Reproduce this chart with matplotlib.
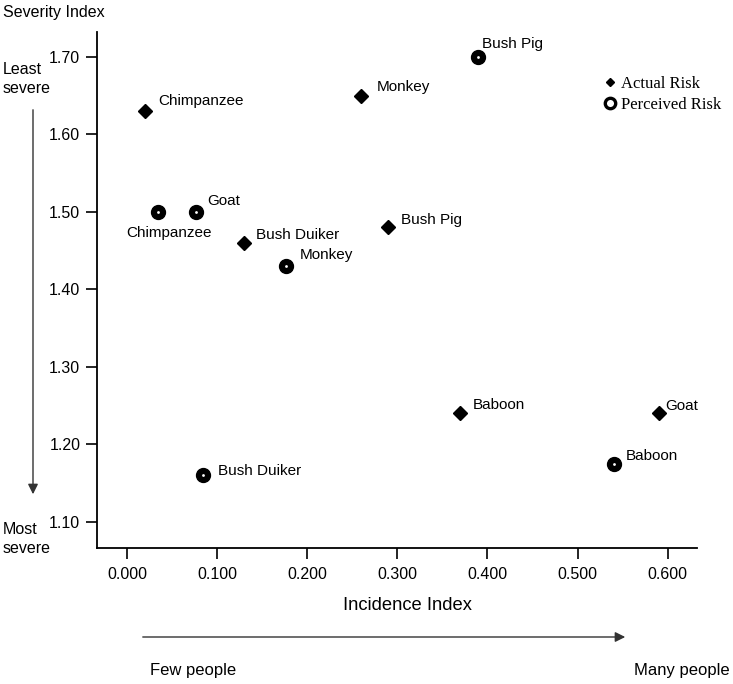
import matplotlib
matplotlib.use("Agg")
import matplotlib.pyplot as plt
from matplotlib.lines import Line2D
from matplotlib.patches import FancyArrowPatch

plt.rcParams['font.family'] = ['Liberation Sans', 'DejaVu Sans']

# Data
actual_names = ["Chimpanzee", "Monkey", "Bush Pig", "Bush Duiker", "Baboon", "Goat"]
actual_incidence = [0.020, 0.260, 0.290, 0.130, 0.370, 0.590]
actual_severity = [1.63, 1.65, 1.48, 1.46, 1.24, 1.24]

perceived_names = ["Bush Pig", "Chimpanzee", "Goat", "Monkey", "Baboon", "Bush Duiker"]
perceived_incidence = [0.390, 0.034, 0.077, 0.176, 0.540, 0.084]
perceived_severity = [1.70, 1.50, 1.50, 1.43, 1.175, 1.16]

x_ticks = [0.0, 0.1, 0.2, 0.3, 0.4, 0.5, 0.6]
x_ticklabels = ["0.000", "0.100", "0.200", "0.300", "0.400", "0.500", "0.600"]
y_ticks = [1.10, 1.20, 1.30, 1.40, 1.50, 1.60, 1.70]
y_ticklabels = ["1.10", "1.20", "1.30", "1.40", "1.50", "1.60", "1.70"]

# label offsets (pixels) and alignment
actual_offsets = [(13, 10, 'left'), (15, 9, 'left'), (13, 7, 'left'),
                  (12, 8, 'left'), (12, 8, 'left'), (7, 7, 'left')]
perceived_offsets = [(4, 13, 'left'), (11, -21, 'center'), (11, 11, 'left'),
                     (14, 11, 'left'), (12, 8, 'left'), (15, 4, 'left')]

fig = plt.figure(figsize=(7.33, 6.84), dpi=100)
ax = fig.add_axes([97/733, 1-547.7/684, 600/733, (547.7-32)/684])

ax.set_xlim(-0.0333, 0.6325)
ax.set_ylim(1.0664, 1.732)

ax.plot(actual_incidence, actual_severity, linestyle='none', marker='D',
        markersize=7.5, color='black')
ax.plot(perceived_incidence, perceived_severity, linestyle='none', marker='o',
        markersize=10, color='black')
ax.plot(perceived_incidence, perceived_severity, linestyle='none', marker='o',
        markersize=2, color='white', markeredgewidth=0)

for name, x, y, (dx, dy, ha) in zip(actual_names, actual_incidence, actual_severity, actual_offsets):
    ax.annotate(name, (x, y), xytext=(dx, dy), textcoords='offset pixels',
                ha=ha, va='center', fontsize=11)

for name, x, y, (dx, dy, ha) in zip(perceived_names, perceived_incidence, perceived_severity, perceived_offsets):
    ax.annotate(name, (x, y), xytext=(dx, dy), textcoords='offset pixels',
                ha=ha, va='center', fontsize=11)

ax.set_xticks(x_ticks)
ax.set_xticklabels(x_ticklabels)
ax.set_yticks(y_ticks)
ax.set_yticklabels(y_ticklabels)
ax.tick_params(axis='both', labelsize=11.5, length=8, width=1.2, color='black', pad=4)
ax.tick_params(axis='x', pad=6)
for s in ['top', 'right']:
    ax.spines[s].set_visible(False)
for s in ['left', 'bottom']:
    ax.spines[s].set_linewidth(1.3)

# Legend
h1 = Line2D([], [], linestyle='none', marker='D', markersize=4, color='black')
h2 = Line2D([], [], linestyle='none', marker='o', markersize=7.5, markerfacecolor='white',
            markeredgecolor='black', markeredgewidth=2.4)
ax.legend([h1, h2], ["Actual Risk", "Perceived Risk"], loc='upper left',
          bbox_to_anchor=(0.832, 0.928), frameon=False, borderaxespad=0,
          handlelength=0.8, handletextpad=0.3, labelspacing=0.3,
          prop={'family': 'Liberation Serif', 'size': 12})

H = 684
def fy(p):
    return 1 - p / H

fig.text(3/733, fy(12), "Severity Index", ha='left', va='center', fontsize=11.5)
fig.text(3/733, fy(79), "Least\nsevere", ha='left', va='center', fontsize=11.5, linespacing=1.3)
fig.text(3/733, fy(539), "Most\nsevere", ha='left', va='center', fontsize=11.5, linespacing=1.3)
fig.text(407/733, fy(606), "Incidence Index", ha='center', va='center', fontsize=13.2)
fig.text(150/733, fy(671), "Few people", ha='left', va='center', fontsize=12)
fig.text(730/733, fy(671), "Many people", ha='right', va='center', fontsize=12)

fig.patches.append(FancyArrowPatch(
    (33/733, fy(107)), (33/733, fy(497)), transform=fig.transFigure,
    arrowstyle='-|>,head_length=6,head_width=3', color='#333333', linewidth=1,
    mutation_scale=1))
fig.patches.append(FancyArrowPatch(
    (140/733, fy(637)), (628/733, fy(637)), transform=fig.transFigure,
    arrowstyle='-|>,head_length=6,head_width=3', color='#333333', linewidth=1,
    mutation_scale=1))

fig.savefig("out.png", dpi=100)
